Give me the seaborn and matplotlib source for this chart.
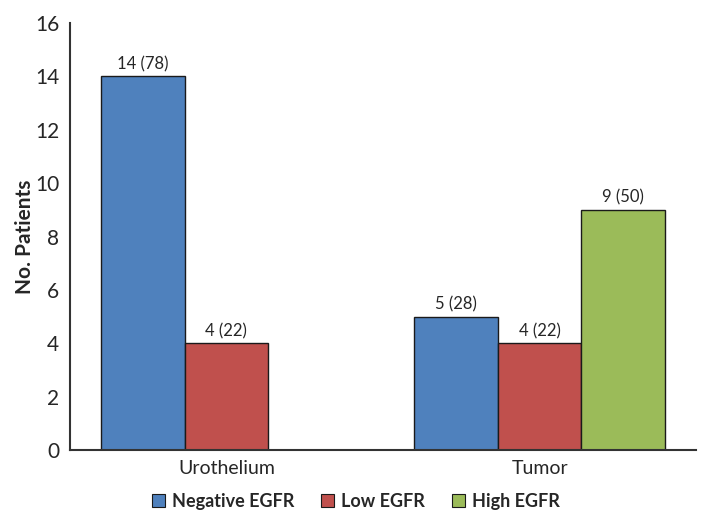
import matplotlib
matplotlib.use('Agg')
import matplotlib.pyplot as plt
from matplotlib.patches import Patch
import seaborn as sns
import pandas as pd

sites = ['Urothelium', 'Urothelium', 'Tumor', 'Tumor', 'Tumor']
levels = ['Negative EGFR', 'Low EGFR', 'Negative EGFR', 'Low EGFR', 'High EGFR']
patients = [14, 4, 5, 4, 9]
percents = [78, 22, 28, 22, 50]

level_order = ['Negative EGFR', 'Low EGFR', 'High EGFR']
colors = ['#4F81BD', '#C0504D', '#9BBB59']

df = pd.DataFrame({'Site': sites, 'Level': levels,
                   'Patients': patients, 'Pct': percents})

sns.set_style('white')
plt.rcParams['font.family'] = ['Lato', 'DejaVu Sans']

fig = plt.figure(figsize=(7.12, 5.25), dpi=100)
ax = fig.add_axes([0.098, 0.143, 0.88, 0.813])

sns.barplot(data=df, x='Site', y='Patients', hue='Level',
            hue_order=level_order, order=['Urothelium', 'Tumor'],
            palette=colors, width=0.8, edgecolor='#1a1a1a', linewidth=1.0,
            saturation=1, legend=False, ax=ax)

for cont, lvl in zip(ax.containers, level_order):
    sub = df[df['Level'] == lvl]
    labs = [f"{n} ({p})" for n, p in zip(sub['Patients'], sub['Pct'])]
    ax.bar_label(cont, labels=labs, padding=3, fontsize=12)

ax.set_ylim(0, 16)
ax.set_yticks(range(0, 17, 2))
ax.set_xlim(-0.5, 1.5)
ax.set_xlabel('')
ax.set_ylabel('No. Patients', fontsize=15, fontweight='bold', labelpad=0)
ax.tick_params(axis='y', direction='inout', length=8, width=1.2, labelsize=15)
ax.tick_params(axis='x', length=0, labelsize=14, pad=7)
sns.despine(ax=ax)
for s in ['left', 'bottom']:
    ax.spines[s].set_color('#333333')
    ax.spines[s].set_linewidth(1.5)

handles = [Patch(facecolor=c, edgecolor='#1a1a1a', linewidth=0.8) for c in colors]
fig.legend(handles, level_order, loc='center', bbox_to_anchor=(0.5, 0.045),
           ncol=3, frameon=False, handlelength=0.7, handleheight=0.7,
           handletextpad=0.4, columnspacing=1.5, prop={'weight': 'bold', 'size': 13})

fig.savefig('out.png', dpi=100)
